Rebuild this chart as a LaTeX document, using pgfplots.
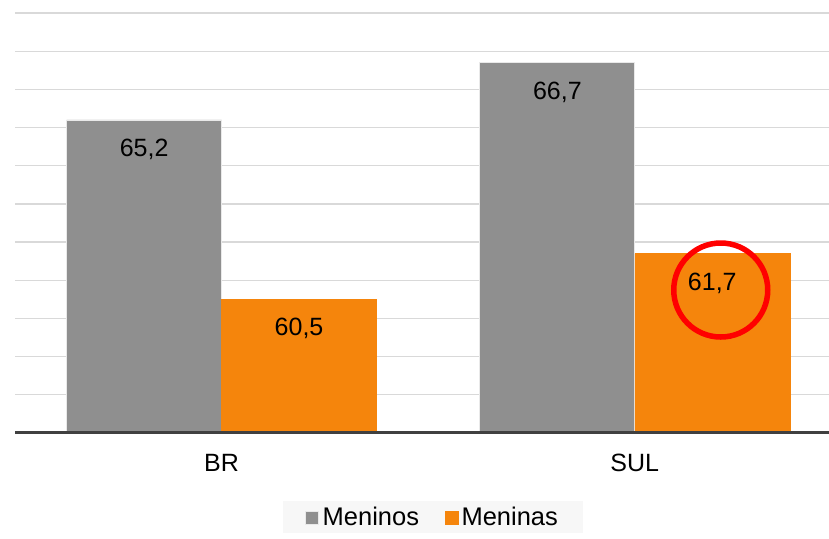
\documentclass[border=0pt]{standalone}
\usepackage{fontspec}
\setmainfont{Liberation Sans}
\usepackage{pgfplots}
\pgfplotsset{compat=1.18}
\definecolor{barGray}{HTML}{8F8F8F}
\definecolor{barOrange}{HTML}{F5850C}
\definecolor{gridGray}{HTML}{D9D9D9}
\definecolor{baseGray}{HTML}{404040}
\definecolor{legBg}{HTML}{F7F7F7}
\begin{document}
\begin{tikzpicture}
\path[use as bounding box] (-15pt,-105pt) rectangle (814pt,433pt);
\begin{axis}[
  at={(0pt,0pt)}, anchor=south west,
  scale only axis, width=814pt, height=420pt,
  ymin=57, ymax=68, xmin=-0.5, xmax=1.47,
  enlarge x limits=false,
  ytick={57,...,68}, yticklabels={},
  ymajorgrids, grid style={gridGray, line width=1.3pt},
  axis line style={draw=none},
  major tick length=0pt,
  xtick={0,1}, xticklabels={BR,SUL},
  xticklabel style={font=\fontsize{25}{30}\selectfont, yshift=-18pt},
  ybar=0pt, bar width=0.375,
  point meta=explicit symbolic,
  nodes near coords,
  every node near coord/.append style={anchor=north, yshift=-15.5pt, font=\fontsize{25}{30}\selectfont, text=black},
  legend style={at={(0.514,-0.2)}, anchor=center, fill=legBg, draw=none,
    legend columns=2, font=\fontsize{25.5}{30}\selectfont,
    inner xsep=22pt, inner ysep=4pt,
    nodes={inner xsep=3.5pt},
    /tikz/every even column/.append style={column sep=22pt}},
  legend image code/.code={\fill[#1] (0pt,-7pt) rectangle (13pt,6pt);},
]
\addplot[fill=barGray, draw=white!80!barGray, line width=0.8pt] coordinates {(0,65.2) [65,2] (1,66.7) [66,7]};
\addplot[fill=barOrange, draw=barOrange, line width=0.5pt] coordinates {(0,60.5) [60,5] (1,61.7) [61,7]};
\legend{Meninos, Meninas}
\draw[baseGray, line width=4pt] (axis cs:-0.5,57) -- (axis cs:1.47,57);
\draw[red, line width=5.5pt] (axis cs:1.208,60.745) circle[radius=47pt];
\end{axis}
\end{tikzpicture}
\end{document}
